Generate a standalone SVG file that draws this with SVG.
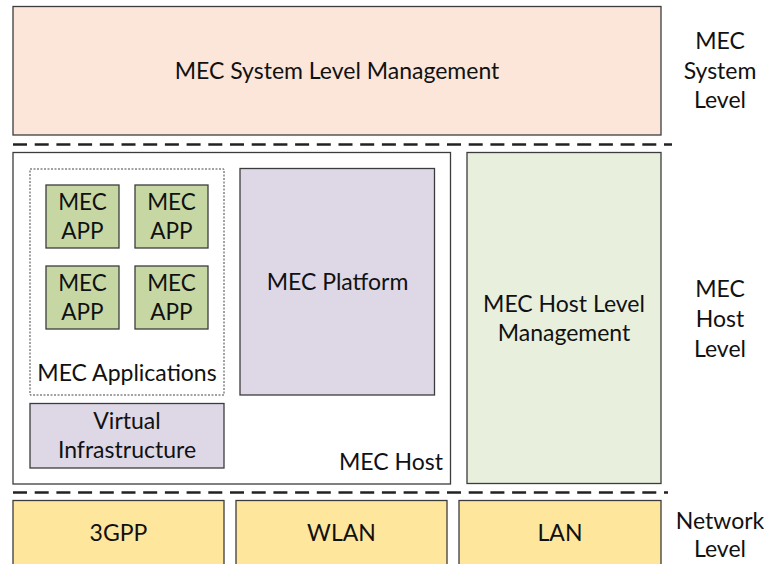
<svg xmlns="http://www.w3.org/2000/svg" width="764" height="564" viewBox="0 0 764 564">
  <style>
    text { font-family: Lato, "Liberation Sans", sans-serif; font-size: 23px; fill: #111; text-anchor: middle; }
    .box { stroke: #3c3c3c; stroke-width: 1.3; }
    .sys { fill: #FBE6D9; }
    .host { fill: #FFFFFF; }
    .hostmgmt { fill: #E8EFDD; }
    .app { fill: #C6D7A4; }
    .lav { fill: #DDD7E6; }
    .net { fill: #FFE69D; }
    .apps { fill: none; stroke: #444; stroke-width: 1; stroke-dasharray: 2 1.5; }
    .divider { stroke: #222; stroke-width: 2.3; stroke-dasharray: 14 7.7; fill: none; }
    .small { font-size: 22.5px; }
  </style>

  <g id="system-level-management">
    <rect class="box sys" x="13" y="6.5" width="648" height="128.5"/>
    <text x="337" y="79">MEC System Level Management</text>
  </g>

  <g id="connectors">
    <line class="divider" x1="13" y1="144.5" x2="672" y2="144.5"/>
    <line class="divider" x1="13" y1="492.5" x2="668" y2="492.5"/>
  </g>

  <g id="mec-host">
    <rect class="box host" x="13" y="152.5" width="437.5" height="331.5"/>
    <text x="443" y="470" style="text-anchor:end">MEC Host</text>
  </g>

  <g id="mec-applications">
    <rect class="apps" x="30" y="169" width="194" height="226"/>
    <text x="127" y="381">MEC Applications</text>
  </g>

  <g id="mec-app-1">
    <rect class="box app" x="46" y="185" width="73" height="63"/>
    <text class="small" x="82.5" y="210">MEC</text>
    <text class="small" x="82.5" y="239">APP</text>
  </g>
  <g id="mec-app-2">
    <rect class="box app" x="135" y="185" width="73" height="63"/>
    <text class="small" x="171.5" y="210">MEC</text>
    <text class="small" x="171.5" y="239">APP</text>
  </g>
  <g id="mec-app-3">
    <rect class="box app" x="46" y="266" width="73" height="63"/>
    <text class="small" x="82.5" y="291">MEC</text>
    <text class="small" x="82.5" y="320">APP</text>
  </g>
  <g id="mec-app-4">
    <rect class="box app" x="135" y="266" width="73" height="63"/>
    <text class="small" x="171.5" y="291">MEC</text>
    <text class="small" x="171.5" y="320">APP</text>
  </g>

  <g id="mec-platform">
    <rect class="box lav" x="240" y="168.5" width="194.5" height="226.5"/>
    <text x="337.5" y="290">MEC Platform</text>
  </g>

  <g id="virtual-infrastructure">
    <rect class="box lav" x="30" y="403.5" width="194" height="64.5"/>
    <text x="127" y="429">Virtual</text>
    <text x="127" y="458">Infrastructure</text>
  </g>

  <g id="host-level-management">
    <rect class="box hostmgmt" x="467" y="152.5" width="194" height="331"/>
    <text x="564" y="312">MEC Host Level</text>
    <text x="564" y="341">Management</text>
  </g>

  <g id="net-3gpp">
    <rect class="box net" x="13" y="500.5" width="211" height="70"/>
    <text x="118.5" y="541">3GPP</text>
  </g>
  <g id="net-wlan">
    <rect class="box net" x="236" y="500.5" width="211" height="70"/>
    <text x="341.5" y="541">WLAN</text>
  </g>
  <g id="net-lan">
    <rect class="box net" x="459" y="500.5" width="202" height="70"/>
    <text x="560" y="541">LAN</text>
  </g>

  <g id="level-labels">
    <text x="720" y="49">MEC</text>
    <text x="720" y="79">System</text>
    <text x="720" y="108">Level</text>
    <text x="720" y="297">MEC</text>
    <text x="720" y="327">Host</text>
    <text x="720" y="357">Level</text>
    <text x="720" y="529">Network</text>
    <text x="720" y="557">Level</text>
  </g>
</svg>
